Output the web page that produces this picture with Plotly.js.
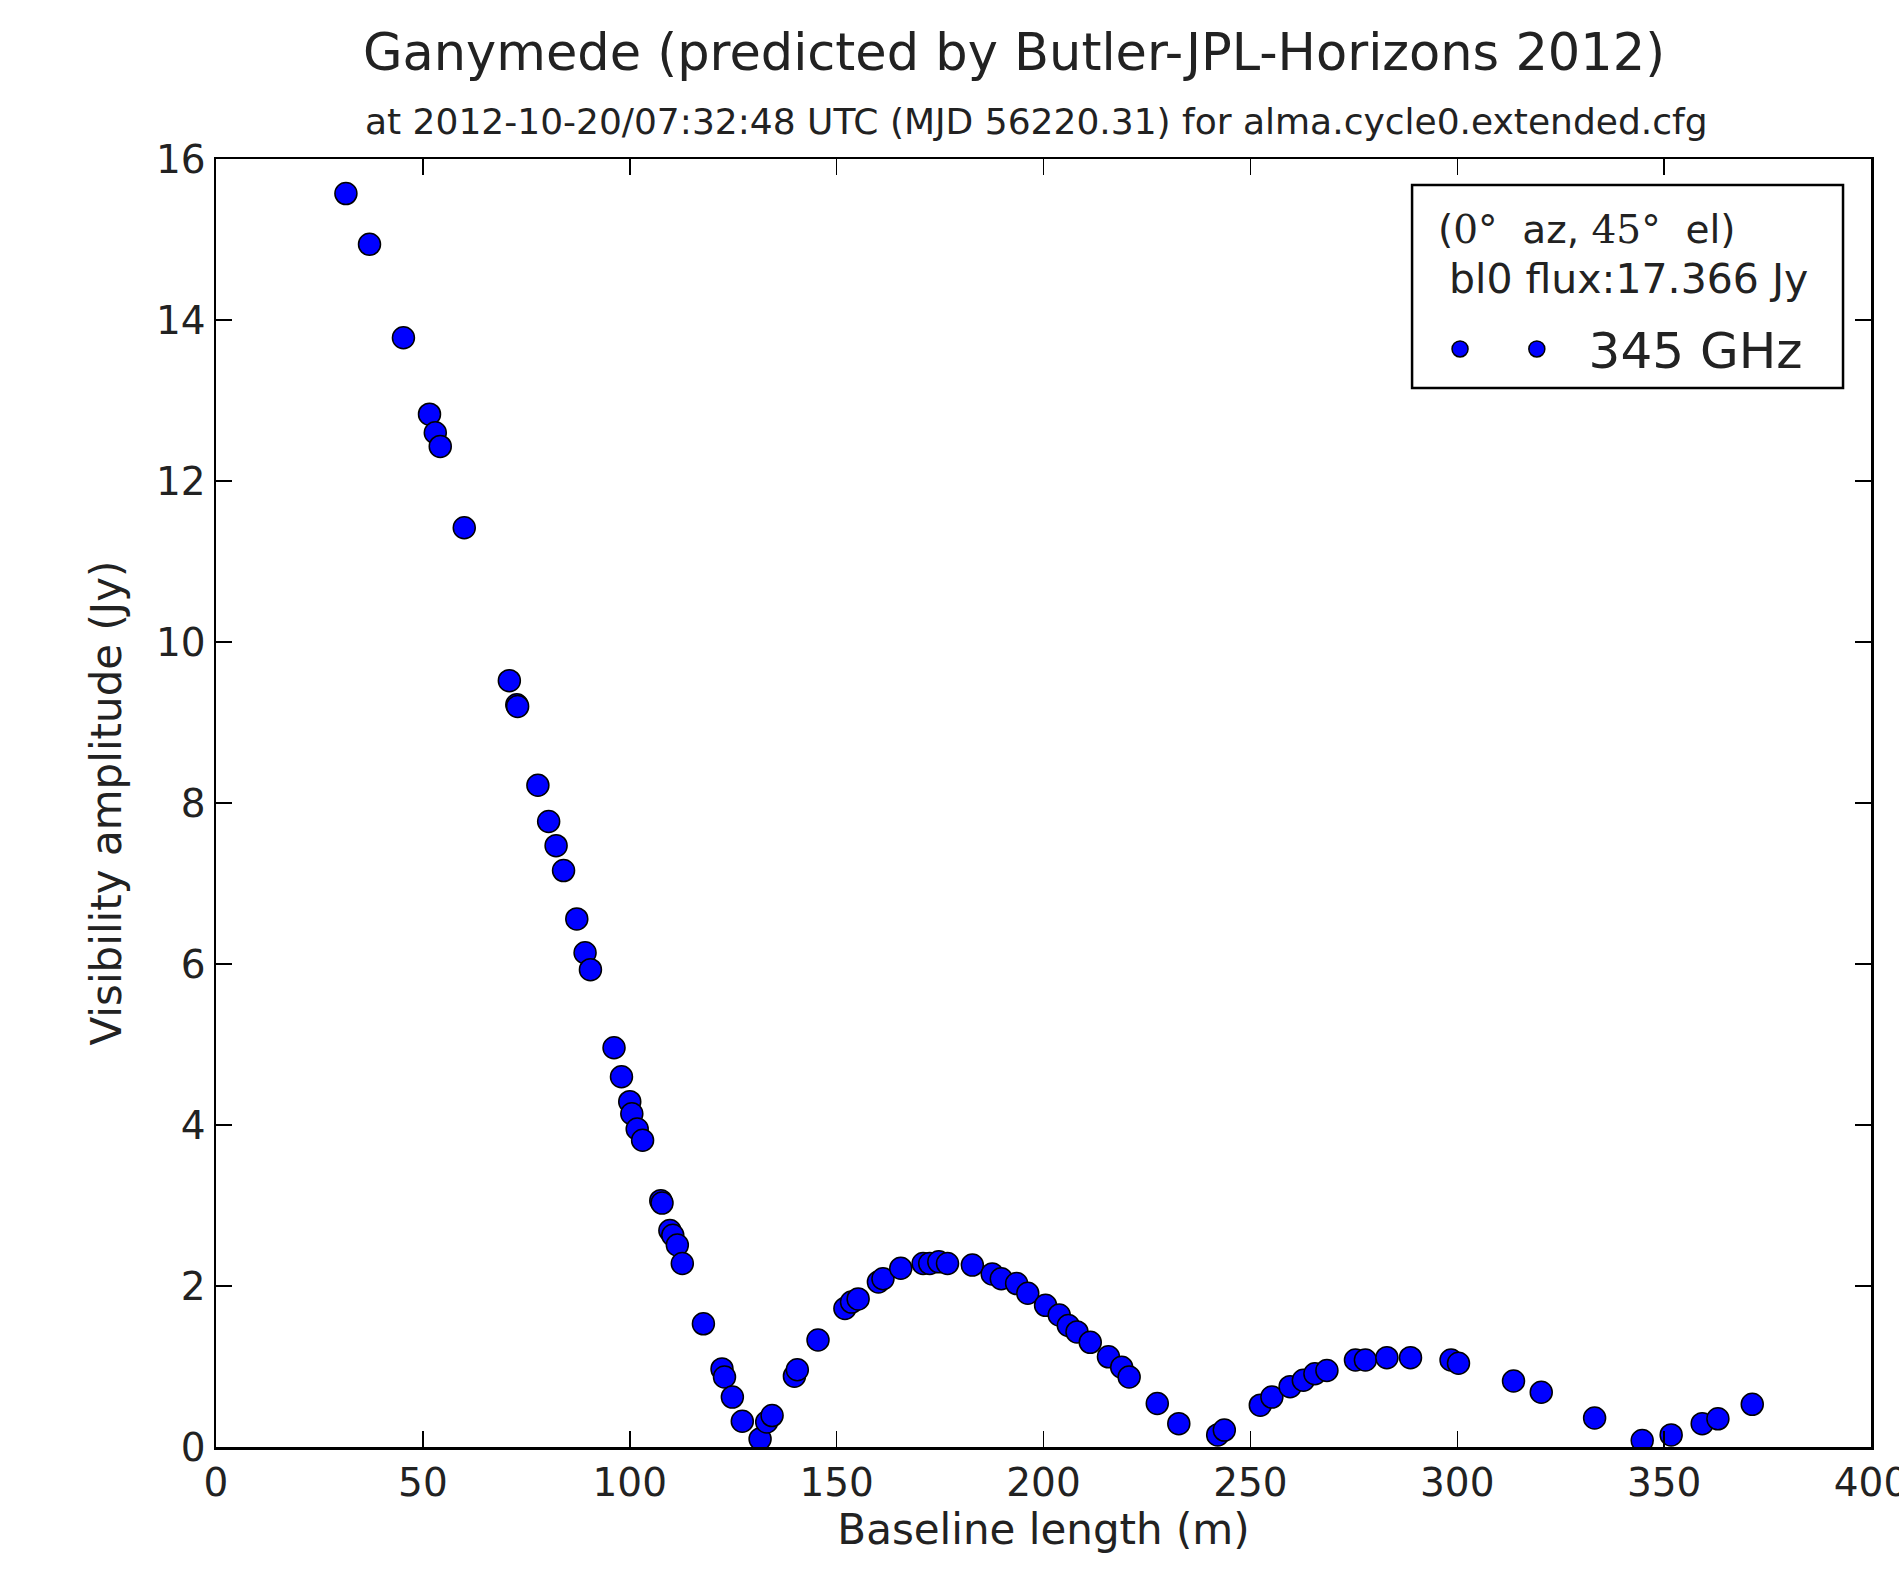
<!DOCTYPE html>
<html>
<head>
<meta charset="utf-8">
<script src="https://cdn.plot.ly/plotly-3.0.1.min.js"></script>
<style>html,body{margin:0;padding:0;background:#fff;}#chart{width:1899px;height:1569px;}</style>
</head>
<body>
<div id="chart"></div>
<script>
// Baseline length (m)
const baseline = [31.4,37.1,45.3,51.6,53.0,54.2,60.0,70.9,72.7,72.9,
  77.8,80.4,82.2,84.0,87.2,89.2,90.5,96.2,98.0,100.0,
  100.5,101.8,103.1,107.5,107.8,109.7,110.4,111.5,112.7,117.8,
  122.3,122.9,124.8,127.2,131.5,133.1,134.4,139.8,140.5,145.5,
  152.0,153.6,155.2,160.1,161.2,165.5,170.9,172.5,174.7,176.8,
  182.8,187.6,189.8,193.5,196.2,200.5,203.8,206.0,208.1,211.3,
  215.7,218.9,220.7,227.5,232.7,242.1,243.7,252.4,255.2,259.6,
  262.8,265.6,268.5,275.4,277.8,283.0,288.7,298.5,300.3,313.6,
  320.3,333.2,344.7,351.7,359.2,363.0,371.3];
// Visibility amplitude (Jy)
const amplitude = [15.57,14.94,13.78,12.83,12.60,12.43,11.42,9.52,9.22,9.20,
  8.22,7.77,7.47,7.16,6.56,6.14,5.93,4.96,4.60,4.29,
  4.14,3.95,3.81,3.06,3.03,2.69,2.63,2.51,2.28,1.53,
  0.97,0.87,0.62,0.32,0.10,0.31,0.39,0.88,0.96,1.33,
  1.72,1.80,1.84,2.05,2.09,2.22,2.28,2.28,2.30,2.28,
  2.26,2.15,2.09,2.03,1.91,1.76,1.64,1.51,1.43,1.30,
  1.12,0.99,0.87,0.54,0.29,0.15,0.21,0.52,0.62,0.75,
  0.83,0.91,0.95,1.08,1.08,1.11,1.11,1.08,1.04,0.82,
  0.68,0.36,0.08,0.15,0.29,0.35,0.53];
const xTicks = [0,50,100,150,200,250,300,350,400];
const yTicks = [0,2,4,6,8,10,12,14,16];
const seriesName = '345 GHz';

const markerStyle = {color:'#0000ff', size:22, line:{color:'#000000', width:1.5}};
const SERIF = 'DejaVu Serif';
const NB = '\u00a0';
const TXT = '#222';

const traces = [
  {x:[null], y:[null], type:'scatter', mode:'markers', name:NB+NB, marker:markerStyle, showlegend:true, hoverinfo:'skip'},
  {x:baseline, y:amplitude, type:'scatter', mode:'markers', name:NB+NB+seriesName, marker:markerStyle}
];

const axisCommon = {
  showline:true, linecolor:'#000', linewidth:2.5, mirror:'ticks',
  ticks:'inside', ticklen:16, tickwidth:1.5, tickcolor:'#000',
  showgrid:false, zeroline:false, ticklabeloverflow:'allow',
  tickfont:{family:'DejaVu Sans', size:39, color:TXT}
};

const layout = {
  width:1899, height:1569,
  paper_bgcolor:'#fff', plot_bgcolor:'#fff',
  margin:{l:216, r:28, t:159, b:122},
  font:{family:'DejaVu Sans', color:TXT},
  title:{
    text:'Ganymede (predicted by Butler-JPL-Horizons 2012)',
    font:{family:'DejaVu Sans', size:51, color:TXT},
    x:363/1899, xanchor:'left', xref:'container',
    y:1-52/1569, yanchor:'middle', yref:'container'
  },
  xaxis:Object.assign({}, axisCommon, {
    range:[0,400], tickvals:xTicks, ticktext:xTicks.map(String),
    title:{text:'Baseline length (m)', font:{family:'DejaVu Sans', size:42, color:TXT}, standoff:3}
  }),
  yaxis:Object.assign({}, axisCommon, {
    range:[0,16], tickvals:yTicks, ticktext:yTicks.map(String),
    title:{text:'Visibility amplitude (Jy)', font:{family:'DejaVu Sans', size:42, color:TXT}, standoff:22}
  }),
  shapes:[{
    type:'rect', xref:'paper', yref:'paper',
    x0:0.7227, x1:0.9831, y0:0.8222, y1:0.9798,
    line:{color:'#000', width:2.5}, fillcolor:'#fff', layer:'above'
  }],
  annotations:[
    {xref:'paper', yref:'paper', x:(363-216)/1655, y:1.0295, xanchor:'left', yanchor:'middle', showarrow:false,
     text:'at 2012-10-20/07:32:48 UTC (MJD 56220.31) for alma.cycle0.extended.cfg',
     font:{family:'DejaVu Sans', size:36, color:TXT}},
    {xref:'paper', yref:'paper', x:0.7372, y:0.9449, xanchor:'left', yanchor:'middle', showarrow:false,
     text:'(<span style="font-family:'+SERIF+'">0</span>°'+NB+NB+'az, <span style="font-family:'+SERIF+'">45</span>°'+NB+NB+'el)',
     font:{family:'DejaVu Sans', size:39, color:TXT}},
    {xref:'paper', yref:'paper', x:0.7438, y:0.9072, xanchor:'left', yanchor:'middle', showarrow:false,
     text:'bl0 flux:17.366 Jy',
     font:{family:'DejaVu Sans', size:41, color:TXT}}
  ],
  showlegend:true,
  legend:{
    x:0.7396, y:0.8525, xanchor:'left', yanchor:'middle',
    orientation:'h',
    bgcolor:'rgba(0,0,0,0)', borderwidth:0,
    font:{family:'DejaVu Sans', size:50, color:TXT},
    itemsizing:'trace'
  }
};

Plotly.newPlot('chart', traces, layout, {displayModeBar:false, staticPlot:true});
</script>
</body>
</html>
